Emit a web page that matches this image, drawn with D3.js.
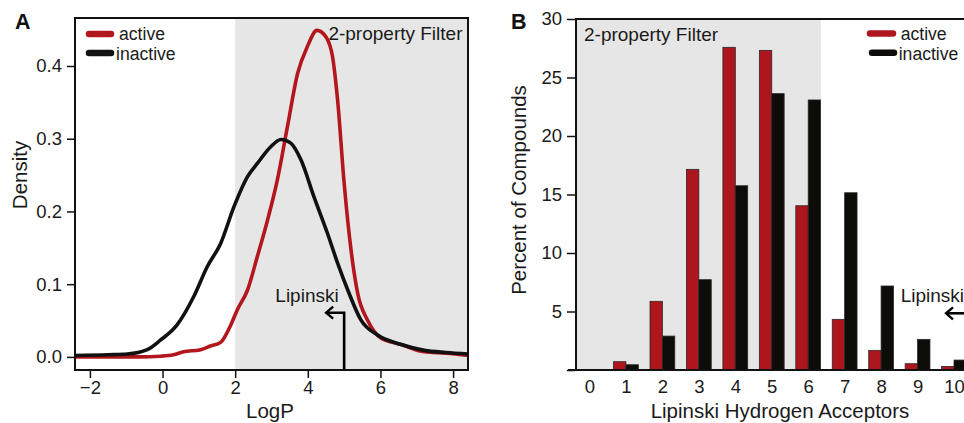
<!DOCTYPE html>
<html>
<head>
<meta charset="utf-8">
<script src="https://cdn.jsdelivr.net/npm/d3@7"></script>
<style>
html,body{margin:0;padding:0;background:#fff;}
svg{display:block;font-family:"Liberation Sans",Arial,Helvetica,sans-serif;}
</style>
</head>
<body>
<svg id="chart" width="964" height="423"></svg>
<script>
// ---------- DATA ----------
// Panel A: LogP density curves
const activeLogP    = [-2.41,-1.5,-0.6,-0.05,0.3,0.58,1.05,1.32,1.6,1.88,2.06,2.34,2.61,2.89,3.16,3.44,3.72,3.99,4.25,4.5,4.68,4.82,5.0,5.19,5.37,5.65,6.01,6.57,7.2,7.8,8.41];
const activeDensity = [0.0,0.0,0.0,0.001,0.003,0.007,0.01,0.015,0.02,0.044,0.065,0.092,0.138,0.188,0.243,0.317,0.39,0.427,0.449,0.44,0.413,0.353,0.239,0.147,0.088,0.05,0.026,0.017,0.007,0.005,0.002];
const inactiveLogP    = [-2.41,-1.5,-0.97,-0.42,-0.06,0.4,0.86,1.23,1.6,1.97,2.34,2.61,2.98,3.26,3.53,3.81,4.17,4.54,4.82,5.1,5.46,5.92,6.57,7.21,7.8,8.41];
const inactiveDensity = [0.002,0.003,0.004,0.01,0.023,0.044,0.083,0.124,0.156,0.207,0.248,0.266,0.289,0.299,0.294,0.271,0.22,0.17,0.129,0.092,0.051,0.03,0.017,0.009,0.006,0.004];
const logPTicks = [-2,0,2,4,6,8];
const densityTicks = [0.0,0.1,0.2,0.3,0.4];
const logPFilterMin = 2;
const logPLipinski = 5;

// Panel B: Lipinski hydrogen acceptors
const hbaCategories = [0,1,2,3,4,5,6,7,8,9,10];
const hbaActive   = [0.0,0.71,5.87,17.15,27.58,27.32,14.04,4.33,1.68,0.54,0.31];
const hbaInactive = [0.0,0.45,2.9,7.72,15.75,23.62,23.08,15.15,7.18,2.62,0.85];
const percentTicks = [0,5,10,15,20,25,30];
const hbaFilterMax = 6.35;

const seriesNames = ["active","inactive"];

// ---------- STYLE ----------
const RED_LINE = "#b3171d", BLACK_LINE = "#111111";
const RED_BAR = "#ad161c", BLACK_BAR = "#0e0c09";
const SHADE = "#e6e6e6", TXT = "#1a1a1a";

const svg = d3.select("#chart");

// ================= PANEL A =================
const A = {l:75, r:468, t:18, b:370};
const xA = d3.scaleLinear().domain([-2.41, 8.41]).range([A.l, A.r]);
const yA = d3.scaleLinear().domain([-0.018, 0.466]).range([A.b, A.t]);

svg.append("rect").attr("x", xA(logPFilterMin)).attr("y", A.t)
  .attr("width", A.r - xA(logPFilterMin)).attr("height", A.b - A.t).attr("fill", SHADE);

svg.append("defs").append("clipPath").attr("id","clipA")
  .append("rect").attr("x",A.l).attr("y",A.t).attr("width",A.r-A.l).attr("height",A.b-A.t);

const line = d3.line().curve(d3.curveMonotoneX);
const gCurves = svg.append("g").attr("clip-path","url(#clipA)");
gCurves.append("path")
  .attr("d", line(activeLogP.map((x,i)=>[xA(x), yA(activeDensity[i])])))
  .attr("fill","none").attr("stroke",RED_LINE).attr("stroke-width",3.6).attr("stroke-linejoin","round");
gCurves.append("path")
  .attr("d", line(inactiveLogP.map((x,i)=>[xA(x), yA(inactiveDensity[i])])))
  .attr("fill","none").attr("stroke",BLACK_LINE).attr("stroke-width",3.6).attr("stroke-linejoin","round");

// Lipinski arrow A
const lx = xA(logPLipinski), ly = 312.7;
svg.append("path").attr("d", `M${lx},${A.b} V${ly} H${lx-17}`)
  .attr("fill","none").attr("stroke","#000").attr("stroke-width",2.6);
svg.append("path").attr("d", `M${lx-11},${ly-6} L${lx-18},${ly} L${lx-11},${ly+6}`)
  .attr("fill","none").attr("stroke","#000").attr("stroke-width",2.4);
svg.append("text").attr("x", 307).attr("y", 301.5).attr("text-anchor","middle")
  .attr("font-size",19).attr("fill",TXT).text("Lipinski");

// frame
svg.append("rect").attr("x",A.l).attr("y",A.t).attr("width",A.r-A.l).attr("height",A.b-A.t)
  .attr("fill","none").attr("stroke","#111").attr("stroke-width",2);

// axes A
const axLA = svg.append("g").attr("transform",`translate(${A.l-1},0)`)
  .call(d3.axisLeft(yA).tickValues(densityTicks).tickFormat(d3.format(".1f")).tickSize(7).tickPadding(5).tickSizeOuter(0));
axLA.select(".domain").remove();
axLA.selectAll("line").attr("stroke","#111").attr("stroke-width",1.5);
axLA.selectAll("text").attr("font-size",18.5).attr("fill",TXT).attr("font-family",null);

const axBA = svg.append("g").attr("transform",`translate(0,${A.b+1})`)
  .call(d3.axisBottom(xA).tickValues(logPTicks).tickSize(7).tickPadding(3).tickSizeOuter(0));
axBA.select(".domain").remove();
axBA.selectAll("line").attr("stroke","#111").attr("stroke-width",1.5);
axBA.selectAll("text").attr("font-size",18.5).attr("fill",TXT).attr("font-family",null);

svg.append("text").attr("x",270).attr("y",418).attr("text-anchor","middle")
  .attr("font-size",20.5).attr("fill",TXT).text("LogP");
svg.append("text").attr("transform","translate(27,175) rotate(-90)").attr("text-anchor","middle")
  .attr("font-size",20.5).attr("fill",TXT).text("Density");
svg.append("text").attr("x",462.5).attr("y",39.5).attr("text-anchor","end")
  .attr("font-size",19).attr("fill",TXT).text("2-property Filter");
svg.append("text").attr("x",15).attr("y",29.3).attr("font-size",21.5).attr("font-weight","bold")
  .attr("fill","#111").text("A");

// legend A
const legA = [{y:34, c:RED_LINE, tx:119, ty:39.8},{y:53, c:BLACK_LINE, tx:116, ty:59.8}];
legA.forEach((d,i)=>{
  svg.append("line").attr("x1",89).attr("x2",111).attr("y1",d.y).attr("y2",d.y)
    .attr("stroke",d.c).attr("stroke-width",6.5).attr("stroke-linecap","round");
  svg.append("text").attr("x",d.tx).attr("y",d.ty).attr("font-size",17.6).attr("fill",TXT).text(seriesNames[i]);
});

// ================= PANEL B =================
const B = {l:576, r:964, t:19, b:370};
const xB = d3.scaleLinear().domain([0,10]).range([589.5, 954]);
const yB = d3.scaleLinear().domain([0,30]).range([B.b, B.t]);
const barW = 12.4;

svg.append("rect").attr("x",B.l).attr("y",B.t).attr("width",xB(hbaFilterMax)-B.l).attr("height",B.b-B.t).attr("fill",SHADE);

const gBars = svg.append("g");
hbaCategories.forEach((c,i)=>{
  gBars.append("rect").attr("x",xB(c)-barW).attr("y",yB(hbaActive[i]))
    .attr("width",barW).attr("height",yB(0)-yB(hbaActive[i]))
    .attr("fill",RED_BAR).attr("stroke","#2a2a2a").attr("stroke-width",0.8);
  gBars.append("rect").attr("x",xB(c)).attr("y",yB(hbaInactive[i]))
    .attr("width",barW).attr("height",yB(0)-yB(hbaInactive[i]))
    .attr("fill",BLACK_BAR).attr("stroke","#2a2a2a").attr("stroke-width",0.8);
});

// frame B (left, top, bottom)
svg.append("path").attr("d",`M${B.r},${B.t} H${B.l} V${B.b}`).attr("fill","none").attr("stroke","#111").attr("stroke-width",2);
svg.append("line").attr("x1",568).attr("x2",B.r).attr("y1",B.b).attr("y2",B.b).attr("stroke","#111").attr("stroke-width",1.8);

const axLB = svg.append("g").attr("transform",`translate(${B.l-1},0)`)
  .call(d3.axisLeft(yB).tickValues(percentTicks).tickFormat(d=> d===0 ? "" : d).tickSize(8).tickPadding(5).tickSizeOuter(0));
axLB.select(".domain").remove();
axLB.selectAll("line").attr("stroke","#111").attr("stroke-width",1.5);
axLB.selectAll("text").attr("font-size",18.5).attr("fill",TXT).attr("font-family",null);

const axBB = svg.append("g").attr("transform",`translate(0,${B.b})`)
  .call(d3.axisBottom(xB).tickValues(hbaCategories).tickFormat(d3.format("d")).tickSize(0).tickPadding(10));
axBB.select(".domain").remove();
axBB.selectAll("text").attr("font-size",18.5).attr("fill",TXT).attr("font-family",null);

svg.append("text").attr("x",780).attr("y",418).attr("text-anchor","middle")
  .attr("font-size",20.5).attr("fill",TXT).text("Lipinski Hydrogen Acceptors");
svg.append("text").attr("transform","translate(526,190) rotate(-90)").attr("text-anchor","middle")
  .attr("font-size",20.5).attr("fill",TXT).text("Percent of Compounds");
svg.append("text").attr("x",584).attr("y",40.5)
  .attr("font-size",19).attr("fill",TXT).text("2-property Filter");
svg.append("text").attr("x",511).attr("y",29.3).attr("font-size",21.5).attr("font-weight","bold")
  .attr("fill","#111").text("B");

// legend B
const legB = [{y:33.5, c:RED_BAR, x1:870, x2:893, tx:900.7, ty:39.8},{y:52.7, c:BLACK_BAR, x1:872, x2:894, tx:898.7, ty:59.8}];
legB.forEach((d,i)=>{
  svg.append("line").attr("x1",d.x1).attr("x2",d.x2).attr("y1",d.y).attr("y2",d.y)
    .attr("stroke",d.c).attr("stroke-width",6.5).attr("stroke-linecap","round");
  svg.append("text").attr("x",d.tx).attr("y",d.ty).attr("font-size",17.6).attr("fill",TXT).text(seriesNames[i]);
});

// Lipinski arrow B
svg.append("text").attr("x",900.7).attr("y",301.5).attr("font-size",19).attr("fill",TXT).text("Lipinski");
svg.append("line").attr("x1",946).attr("x2",970).attr("y1",313.3).attr("y2",313.3).attr("stroke","#000").attr("stroke-width",2.6);
svg.append("path").attr("d","M953,307.3 L946,313.3 L953,319.3").attr("fill","none").attr("stroke","#000").attr("stroke-width",2.4);
</script>
</body>
</html>
